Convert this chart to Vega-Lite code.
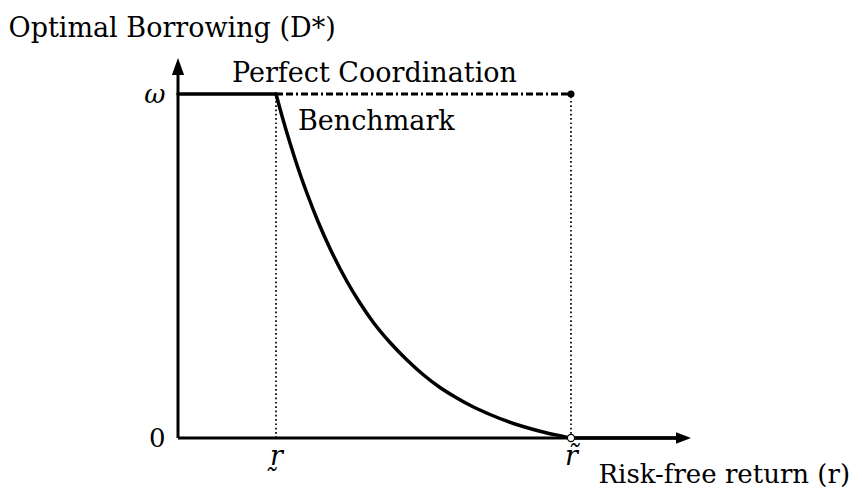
{
  "$schema": "https://vega.github.io/schema/vega-lite/v6.json",
  "width": 513,
  "height": 380,
  "autosize": {"type": "none"},
  "padding": {"left": 178, "top": 58, "right": 171, "bottom": 53},
  "background": "white",
  "config": {"view": {"stroke": null}, "font": "DejaVu Serif"},
  "datasets": {
    "guides": [
      {"x": 0.98, "y": 0, "y2": 3.44},
      {"x": 3.93, "y": 0, "y2": 3.44}
    ],
    "axes": [
      {"x": 0, "x2": 4.99, "y": 0, "y2": 0},
      {"x": 0, "x2": 0, "y": 0, "y2": 3.66}
    ],
    "bench": [
      {"part": "flat", "x": 0, "y": 3.44},
      {"part": "flat", "x": 0.98, "y": 3.44},
      {"part": "curve", "x": 0.98, "y": 3.44},
      {"part": "curve", "x": 1.05, "y": 3.185},
      {"part": "curve", "x": 1.12, "y": 2.95},
      {"part": "curve", "x": 1.20, "y": 2.70},
      {"part": "curve", "x": 1.30, "y": 2.42},
      {"part": "curve", "x": 1.40, "y": 2.165},
      {"part": "curve", "x": 1.52, "y": 1.895},
      {"part": "curve", "x": 1.69, "y": 1.565},
      {"part": "curve", "x": 1.82, "y": 1.35},
      {"part": "curve", "x": 1.95, "y": 1.16},
      {"part": "curve", "x": 2.12, "y": 0.955},
      {"part": "curve", "x": 2.29, "y": 0.78},
      {"part": "curve", "x": 2.45, "y": 0.635},
      {"part": "curve", "x": 2.62, "y": 0.505},
      {"part": "curve", "x": 2.78, "y": 0.405},
      {"part": "curve", "x": 2.95, "y": 0.312},
      {"part": "curve", "x": 3.12, "y": 0.235},
      {"part": "curve", "x": 3.29, "y": 0.168},
      {"part": "curve", "x": 3.45, "y": 0.115},
      {"part": "curve", "x": 3.62, "y": 0.068},
      {"part": "curve", "x": 3.78, "y": 0.031},
      {"part": "curve", "x": 3.93, "y": 0.0},
      {"part": "tail", "x": 3.93, "y": 0.0},
      {"part": "tail", "x": 4.99, "y": 0.0}
    ],
    "perfect": [
      {"x": 0.98, "y": 3.44},
      {"x": 3.93, "y": 3.44}
    ],
    "filled": [{"x": 3.93, "y": 3.44}],
    "open": [{"x": 3.93, "y": 0}],
    "yarrow": [{"x": 0, "y": 3.80}],
    "xarrow": [{"x": 5.13, "y": 0}],
    "labels": [
      {"x": 0.54, "y": 3.56, "label": "Perfect Coordination"},
      {"x": 1.20, "y": 3.08, "label": "Benchmark"}
    ]
  },
  "encoding": {
    "x": {
      "field": "x",
      "type": "quantitative",
      "scale": {"domain": [0, 5.13], "nice": false, "zero": false},
      "axis": {
        "values": [0.98, 3.93],
        "labelExpr": "datum.value < 2 ? 'r\u0330' : 'r\u0303'",
        "domain": false,
        "ticks": false,
        "tickSize": 0,
        "grid": false,
        "labelFont": "DejaVu Serif",
        "labelFontSize": 27,
        "labelFontStyle": "italic",
        "labelColor": "black",
        "labelBaseline": "alphabetic",
        "labelPadding": 26,
        "labelFlush": false,
        "labelOverlap": false,
        "title": "Risk-free return (r)",
        "titleFont": "DejaVu Serif",
        "titleFontSize": 26,
        "titleFontWeight": "normal",
        "titleColor": "black",
        "titleAlign": "left",
        "titleAnchor": "start",
        "titleBaseline": "alphabetic",
        "titleX": 420,
        "titleY": 44
      }
    },
    "y": {
      "field": "y",
      "type": "quantitative",
      "scale": {"domain": [0, 3.80], "nice": false, "zero": false},
      "axis": {
        "values": [0, 3.44],
        "labelExpr": "datum.value == 0 ? '0' : '\u03c9'",
        "domain": false,
        "ticks": false,
        "tickSize": 0,
        "grid": false,
        "labelFont": "DejaVu Serif",
        "labelFontSize": 26,
        "labelFontStyle": {"condition": {"test": "datum.value == 0", "value": "normal"}, "value": "italic"},
        "labelColor": "black",
        "labelBaseline": "middle",
        "labelPadding": 13,
        "labelFlush": false,
        "labelOverlap": false,
        "title": "Optimal Borrowing (D*)",
        "titleFont": "DejaVu Serif",
        "titleFontSize": 27,
        "titleFontWeight": "normal",
        "titleColor": "black",
        "titleAngle": 0,
        "titleAlign": "left",
        "titleAnchor": "start",
        "titleBaseline": "alphabetic",
        "titleX": -170,
        "titleY": -22
      }
    }
  },
  "layer": [
    {
      "data": {"name": "guides"},
      "mark": {"type": "rule", "color": "black", "strokeWidth": 1.7, "strokeDash": [1.7, 2.6]},
      "encoding": {"y2": {"field": "y2"}}
    },
    {
      "data": {"name": "axes"},
      "mark": {"type": "rule", "color": "black", "strokeWidth": 3},
      "encoding": {"x2": {"field": "x2"}, "y2": {"field": "y2"}}
    },
    {
      "data": {"name": "perfect"},
      "mark": {"type": "line", "color": "black", "strokeWidth": 3.2, "strokeDash": [7, 3, 7, 3, 2, 3]},
      "encoding": {}
    },
    {
      "data": {"name": "bench"},
      "mark": {"type": "line", "color": "black", "strokeWidth": 3.5, "interpolate": "monotone", "strokeCap": "round"},
      "encoding": {"detail": {"field": "part"}}
    },
    {
      "data": {"name": "filled"},
      "mark": {"type": "point", "shape": "circle", "filled": true, "color": "black", "size": 50, "opacity": 1}
    },
    {
      "data": {"name": "open"},
      "mark": {"type": "point", "shape": "circle", "filled": true, "fill": "white", "stroke": "black", "strokeWidth": 1.2, "size": 50, "opacity": 1}
    },
    {
      "data": {"name": "yarrow"},
      "mark": {"type": "point", "shape": "M0,0L-0.36,1L0.36,1Z", "filled": true, "color": "black", "size": 1156, "opacity": 1}
    },
    {
      "data": {"name": "xarrow"},
      "mark": {"type": "point", "shape": "M0,0L-1,-0.38L-1,0.38Z", "filled": true, "color": "black", "size": 900, "opacity": 1}
    },
    {
      "data": {"name": "labels"},
      "mark": {"type": "text", "align": "left", "baseline": "alphabetic", "font": "DejaVu Serif", "fontSize": 27, "color": "black"},
      "encoding": {"text": {"field": "label"}}
    }
  ]
}
